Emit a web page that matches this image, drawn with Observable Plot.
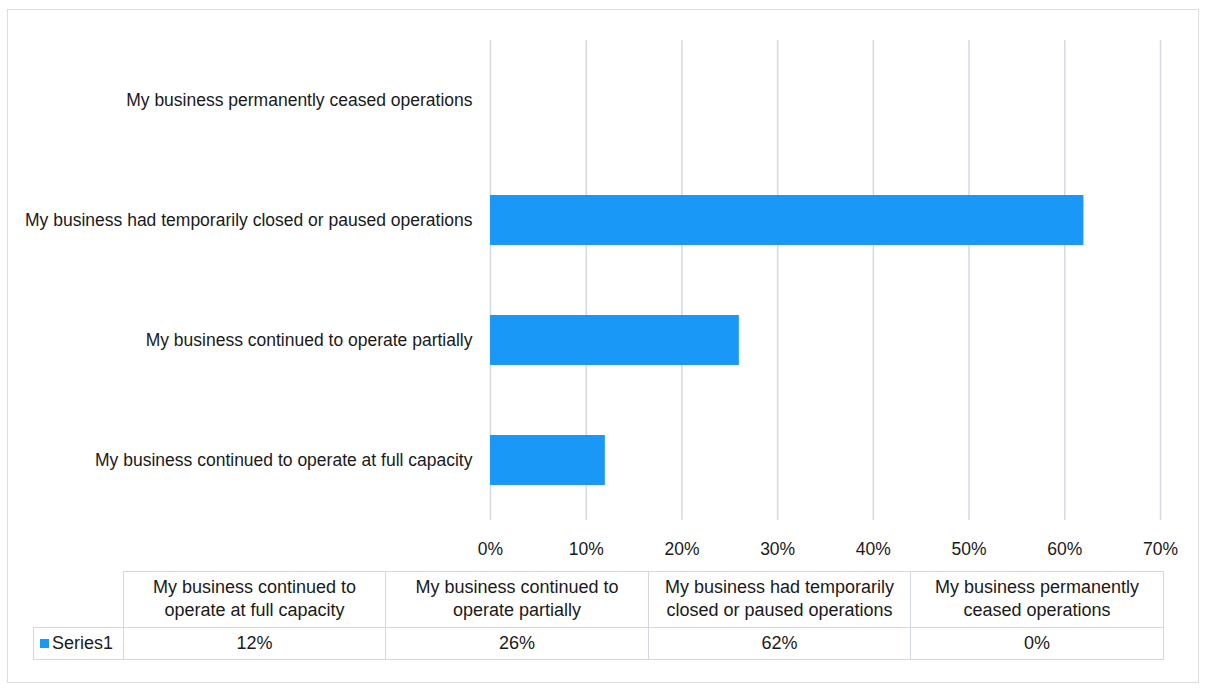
<!DOCTYPE html>
<html>
<head>
<meta charset="utf-8">
<script src="https://cdn.jsdelivr.net/npm/d3@7"></script>
<script src="https://cdn.jsdelivr.net/npm/@observablehq/plot@0.6"></script>
<style>
  html, body { margin: 0; padding: 0; background: #fff; }
  body { width: 1207px; height: 690px; position: relative; overflow: hidden; font-family: "Liberation Sans", Arial, sans-serif; }
  #frame { position: absolute; left: 7px; top: 9px; width: 1192px; height: 674px; border: 1.5px solid #dedede; box-sizing: border-box; }
  #chart { position: absolute; left: 0; top: 0; }
  #tbl { position: absolute; left: 33px; top: 571px; width: 1130px; table-layout: fixed; border-collapse: collapse; font-size: 18px; color: #1a1a1a; }
  #tbl td { border: 1.5px solid #d3d8e6; text-align: center; padding: 0 4px; line-height: 23px; overflow: hidden; }
  #tbl td.blank { border: none; border-bottom: 1.5px solid #d3d8e6; }
  #tbl tr.head td { height: 53px; vertical-align: middle; padding-bottom: 2px; }
  #tbl tr.vals td { height: 31px; }
  #tbl td.series { text-align: left; padding-left: 6px; }
  .key { display: inline-block; width: 9px; height: 9px; background: #1a98f8; margin-right: 3px; vertical-align: 1px; }
</style>
</head>
<body>
<div id="frame"></div>
<div id="chart"></div>
<table id="tbl">
  <colgroup><col style="width:90px"><col style="width:262px"><col style="width:263px"><col style="width:262px"><col style="width:253px"></colgroup>
</table>
<script>
// Data (table order)
const categories = [
  "My business continued to operate at full capacity",
  "My business continued to operate partially",
  "My business had temporarily closed or paused operations",
  "My business permanently ceased operations"
];
const values = [12, 26, 62, 0];
const seriesName = "Series1";
const xTicks = [0, 10, 20, 30, 40, 50, 60, 70];
const barColor = "#1a98f8";

const data = categories.map((c, i) => ({category: c, value: values[i]}));
const yOrder = categories.slice().reverse();

const chart = Plot.plot({
  width: 1207,
  height: 565,
  marginLeft: 490,
  marginRight: 47,
  marginTop: 40,
  marginBottom: 45,
  style: {fontFamily: "'Liberation Sans', Arial, sans-serif", fontSize: "17px", color: "#1a1a1a", background: "transparent"},
  x: {domain: [0, 70], ticks: xTicks, tickFormat: d => d + "%", label: null},
  y: {domain: yOrder, paddingInner: 0.58, paddingOuter: 0.29, label: null},
  marks: [
    Plot.gridX(xTicks, {stroke: "#d3d8e6", strokeOpacity: 1, strokeWidth: 1.5}),
    Plot.barX(data, {x: "value", y: "category", fill: barColor}),
    Plot.axisX({ticks: xTicks, tickFormat: d => d + "%", tickSize: 0, tickPadding: 22, fontSize: 17.5, label: null}),
    Plot.axisY({tickSize: 0, tickPadding: 18, fontSize: 17.5, label: null, textAnchor: "end"})
  ]
});
document.getElementById("chart").appendChild(chart);

// Data table below the chart
const tbl = d3.select("#tbl");
const head = tbl.append("tr").attr("class", "head");
head.append("td").attr("class", "blank");
head.selectAll("td.h").data(categories).join("td").attr("class", "h").text(d => d);
const vals = tbl.append("tr").attr("class", "vals");
const s = vals.append("td").attr("class", "series");
s.append("span").attr("class", "key");
s.append("span").text(seriesName);
vals.selectAll("td.v").data(values).join("td").attr("class", "v").text(d => d + "%");
</script>
</body>
</html>
